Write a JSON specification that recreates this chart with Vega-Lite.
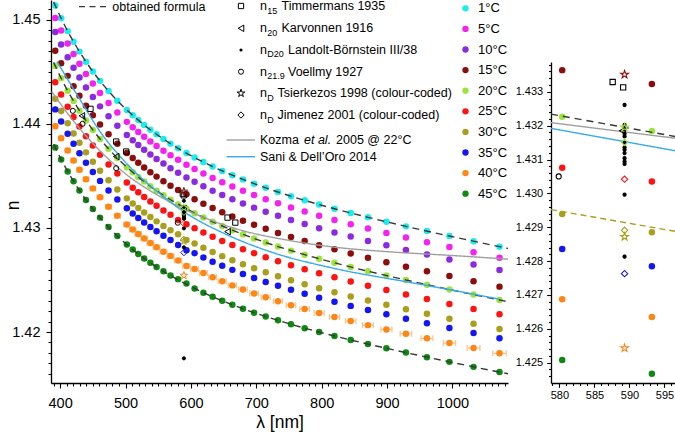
{
  "$schema": "https://vega.github.io/schema/vega-lite/v6.json",
  "width": 624,
  "height": 383,
  "autosize": "none",
  "padding": {"left": 51, "top": 0, "right": 0, "bottom": 53},
  "config": {
    "view": {"stroke": null},
    "font": "Liberation Sans",
    "axis": {"grid": false, "domainColor": "#000", "tickColor": "#000", "labelColor": "#000", "titleColor": "#000", "titleFontWeight": "normal", "domainWidth": 1.3, "tickWidth": 1.1, "labelOverlap": false, "labelFlush": false},
    "text": {"color": "#000"}
  },
  "datasets": {
    "pts": [
      {"l":392.5,"t":"1°C","n":1.45137},{"l":401.5,"t":"1°C","n":1.45015},{"l":411.5,"t":"1°C","n":1.44891},{"l":420.5,"t":"1°C","n":1.44789},{"l":429.5,"t":"1°C","n":1.44694},{"l":439.5,"t":"1°C","n":1.44597},{"l":450,"t":"1°C","n":1.44503},{"l":461,"t":"1°C","n":1.44413},{"l":474,"t":"1°C","n":1.44315},{"l":487.5,"t":"1°C","n":1.44223},{"l":502,"t":"1°C","n":1.44133},{"l":511,"t":"1°C","n":1.44082},{"l":519.5,"t":"1°C","n":1.44036},{"l":528.5,"t":"1°C","n":1.43989},{"l":538,"t":"1°C","n":1.43943},{"l":547.5,"t":"1°C","n":1.43900},{"l":558,"t":"1°C","n":1.43854},{"l":568.8,"t":"1°C","n":1.43810},{"l":580.4,"t":"1°C","n":1.43765},{"l":593.2,"t":"1°C","n":1.43719},{"l":605.6,"t":"1°C","n":1.43676},{"l":619.1,"t":"1°C","n":1.43633},{"l":633.2,"t":"1°C","n":1.43590},{"l":647.9,"t":"1°C","n":1.43548},{"l":663.4,"t":"1°C","n":1.43507},{"l":679.6,"t":"1°C","n":1.43466},{"l":696.6,"t":"1°C","n":1.43425},{"l":714.4,"t":"1°C","n":1.43385},{"l":733.2,"t":"1°C","n":1.43345},{"l":753.1,"t":"1°C","n":1.43305},{"l":774,"t":"1°C","n":1.43265},{"l":796.1,"t":"1°C","n":1.43225},{"l":819.6,"t":"1°C","n":1.43184},{"l":844.4,"t":"1°C","n":1.43143},{"l":870.8,"t":"1°C","n":1.43102},{"l":899,"t":"1°C","n":1.43059},{"l":928.9,"t":"1°C","n":1.43015},{"l":961,"t":"1°C","n":1.42970},{"l":995.4,"t":"1°C","n":1.42922},{"l":1032.3,"t":"1°C","n":1.42872},{"l":1072,"t":"1°C","n":1.42820},
      {"l":392.5,"t":"5°C","n":1.45016},{"l":401.5,"t":"5°C","n":1.44896},{"l":411.5,"t":"5°C","n":1.44772},{"l":420.5,"t":"5°C","n":1.44671},{"l":429.5,"t":"5°C","n":1.44577},{"l":439.5,"t":"5°C","n":1.44480},{"l":450,"t":"5°C","n":1.44387},{"l":461,"t":"5°C","n":1.44297},{"l":474,"t":"5°C","n":1.44200},{"l":487.5,"t":"5°C","n":1.44109},{"l":502,"t":"5°C","n":1.44019},{"l":511,"t":"5°C","n":1.43968},{"l":519.5,"t":"5°C","n":1.43922},{"l":528.5,"t":"5°C","n":1.43877},{"l":538,"t":"5°C","n":1.43831},{"l":547.5,"t":"5°C","n":1.43787},{"l":558,"t":"5°C","n":1.43742},{"l":568.8,"t":"5°C","n":1.43698},{"l":580.4,"t":"5°C","n":1.43654},{"l":593.2,"t":"5°C","n":1.43608},{"l":605.6,"t":"5°C","n":1.43566},{"l":619.1,"t":"5°C","n":1.43522},{"l":633.2,"t":"5°C","n":1.43480},{"l":647.9,"t":"5°C","n":1.43439},{"l":663.4,"t":"5°C","n":1.43397},{"l":679.6,"t":"5°C","n":1.43357},{"l":696.6,"t":"5°C","n":1.43316},{"l":714.4,"t":"5°C","n":1.43276},{"l":733.2,"t":"5°C","n":1.43237},{"l":753.1,"t":"5°C","n":1.43197},{"l":774,"t":"5°C","n":1.43157},{"l":796.1,"t":"5°C","n":1.43117},{"l":819.6,"t":"5°C","n":1.43077},{"l":844.4,"t":"5°C","n":1.43036},{"l":870.8,"t":"5°C","n":1.42994},{"l":899,"t":"5°C","n":1.42952},{"l":928.9,"t":"5°C","n":1.42908},{"l":961,"t":"5°C","n":1.42863},{"l":995.4,"t":"5°C","n":1.42816},{"l":1032.3,"t":"5°C","n":1.42766},{"l":1072,"t":"5°C","n":1.42714},
      {"l":392.5,"t":"10°C","n":1.44883},{"l":401.5,"t":"10°C","n":1.44763},{"l":411.5,"t":"10°C","n":1.44640},{"l":420.5,"t":"10°C","n":1.44539},{"l":429.5,"t":"10°C","n":1.44446},{"l":439.5,"t":"10°C","n":1.44350},{"l":450,"t":"10°C","n":1.44258},{"l":461,"t":"10°C","n":1.44168},{"l":474,"t":"10°C","n":1.44072},{"l":487.5,"t":"10°C","n":1.43981},{"l":502,"t":"10°C","n":1.43893},{"l":511,"t":"10°C","n":1.43842},{"l":519.5,"t":"10°C","n":1.43797},{"l":528.5,"t":"10°C","n":1.43751},{"l":538,"t":"10°C","n":1.43706},{"l":547.5,"t":"10°C","n":1.43663},{"l":558,"t":"10°C","n":1.43618},{"l":568.8,"t":"10°C","n":1.43574},{"l":580.4,"t":"10°C","n":1.43530},{"l":593.2,"t":"10°C","n":1.43484},{"l":605.6,"t":"10°C","n":1.43443},{"l":619.1,"t":"10°C","n":1.43400},{"l":633.2,"t":"10°C","n":1.43358},{"l":647.9,"t":"10°C","n":1.43316},{"l":663.4,"t":"10°C","n":1.43275},{"l":679.6,"t":"10°C","n":1.43235},{"l":696.6,"t":"10°C","n":1.43195},{"l":714.4,"t":"10°C","n":1.43155},{"l":733.2,"t":"10°C","n":1.43116},{"l":753.1,"t":"10°C","n":1.43076},{"l":774,"t":"10°C","n":1.43037},{"l":796.1,"t":"10°C","n":1.42997},{"l":819.6,"t":"10°C","n":1.42957},{"l":844.4,"t":"10°C","n":1.42917},{"l":870.8,"t":"10°C","n":1.42875},{"l":899,"t":"10°C","n":1.42833},{"l":928.9,"t":"10°C","n":1.42789},{"l":961,"t":"10°C","n":1.42744},{"l":995.4,"t":"10°C","n":1.42697},{"l":1032.3,"t":"10°C","n":1.42648},{"l":1072,"t":"10°C","n":1.42596},
      {"l":392.5,"t":"15°C","n":1.44702},{"l":401.5,"t":"15°C","n":1.44583},{"l":411.5,"t":"15°C","n":1.44461},{"l":420.5,"t":"15°C","n":1.44361},{"l":429.5,"t":"15°C","n":1.44269},{"l":439.5,"t":"15°C","n":1.44174},{"l":450,"t":"15°C","n":1.44082},{"l":461,"t":"15°C","n":1.43994},{"l":474,"t":"15°C","n":1.43899},{"l":487.5,"t":"15°C","n":1.43809},{"l":502,"t":"15°C","n":1.43721},{"l":511,"t":"15°C","n":1.43671},{"l":519.5,"t":"15°C","n":1.43626},{"l":528.5,"t":"15°C","n":1.43581},{"l":538,"t":"15°C","n":1.43536},{"l":547.5,"t":"15°C","n":1.43493},{"l":558,"t":"15°C","n":1.43449},{"l":568.8,"t":"15°C","n":1.43406},{"l":580.4,"t":"15°C","n":1.43364},{"l":593.2,"t":"15°C","n":1.43323},{"l":605.6,"t":"15°C","n":1.43275},{"l":619.1,"t":"15°C","n":1.43233},{"l":633.2,"t":"15°C","n":1.43191},{"l":647.9,"t":"15°C","n":1.43151},{"l":663.4,"t":"15°C","n":1.43110},{"l":679.6,"t":"15°C","n":1.43070},{"l":696.6,"t":"15°C","n":1.43030},{"l":714.4,"t":"15°C","n":1.42991},{"l":733.2,"t":"15°C","n":1.42952},{"l":753.1,"t":"15°C","n":1.42913},{"l":774,"t":"15°C","n":1.42874},{"l":796.1,"t":"15°C","n":1.42834},{"l":819.6,"t":"15°C","n":1.42795},{"l":844.4,"t":"15°C","n":1.42754},{"l":870.8,"t":"15°C","n":1.42714},{"l":899,"t":"15°C","n":1.42671},{"l":928.9,"t":"15°C","n":1.42628},{"l":961,"t":"15°C","n":1.42584},{"l":995.4,"t":"15°C","n":1.42537},{"l":1032.3,"t":"15°C","n":1.42488},{"l":1072,"t":"15°C","n":1.42436},
      {"l":392.5,"t":"20°C","n":1.44557},{"l":401.5,"t":"20°C","n":1.44438},{"l":411.5,"t":"20°C","n":1.44318},{"l":420.5,"t":"20°C","n":1.44219},{"l":429.5,"t":"20°C","n":1.44127},{"l":439.5,"t":"20°C","n":1.44033},{"l":450,"t":"20°C","n":1.43942},{"l":461,"t":"20°C","n":1.43854},{"l":474,"t":"20°C","n":1.43760},{"l":487.5,"t":"20°C","n":1.43671},{"l":502,"t":"20°C","n":1.43584},{"l":511,"t":"20°C","n":1.43534},{"l":519.5,"t":"20°C","n":1.43489},{"l":528.5,"t":"20°C","n":1.43445},{"l":538,"t":"20°C","n":1.43400},{"l":547.5,"t":"20°C","n":1.43358},{"l":558,"t":"20°C","n":1.43314},{"l":568.8,"t":"20°C","n":1.43271},{"l":580.4,"t":"20°C","n":1.43226},{"l":593.2,"t":"20°C","n":1.43184},{"l":605.6,"t":"20°C","n":1.43142},{"l":619.1,"t":"20°C","n":1.43100},{"l":633.2,"t":"20°C","n":1.43059},{"l":647.9,"t":"20°C","n":1.43018},{"l":663.4,"t":"20°C","n":1.42978},{"l":679.6,"t":"20°C","n":1.42938},{"l":696.6,"t":"20°C","n":1.42899},{"l":714.4,"t":"20°C","n":1.42860},{"l":733.2,"t":"20°C","n":1.42821},{"l":753.1,"t":"20°C","n":1.42782},{"l":774,"t":"20°C","n":1.42743},{"l":796.1,"t":"20°C","n":1.42704},{"l":819.6,"t":"20°C","n":1.42665},{"l":844.4,"t":"20°C","n":1.42625},{"l":870.8,"t":"20°C","n":1.42584},{"l":899,"t":"20°C","n":1.42542},{"l":928.9,"t":"20°C","n":1.42500},{"l":961,"t":"20°C","n":1.42455},{"l":995.4,"t":"20°C","n":1.42408},{"l":1032.3,"t":"20°C","n":1.42360},{"l":1072,"t":"20°C","n":1.42308},
      {"l":392.5,"t":"25°C","n":1.44400},{"l":401.5,"t":"25°C","n":1.44283},{"l":411.5,"t":"25°C","n":1.44164},{"l":420.5,"t":"25°C","n":1.44065},{"l":429.5,"t":"25°C","n":1.43974},{"l":439.5,"t":"25°C","n":1.43881},{"l":450,"t":"25°C","n":1.43791},{"l":461,"t":"25°C","n":1.43704},{"l":474,"t":"25°C","n":1.43610},{"l":487.5,"t":"25°C","n":1.43522},{"l":502,"t":"25°C","n":1.43436},{"l":511,"t":"25°C","n":1.43386},{"l":519.5,"t":"25°C","n":1.43342},{"l":528.5,"t":"25°C","n":1.43298},{"l":538,"t":"25°C","n":1.43254},{"l":547.5,"t":"25°C","n":1.43212},{"l":558,"t":"25°C","n":1.43168},{"l":568.8,"t":"25°C","n":1.43126},{"l":580.4,"t":"25°C","n":1.43076},{"l":593.2,"t":"25°C","n":1.43035},{"l":605.6,"t":"25°C","n":1.42998},{"l":619.1,"t":"25°C","n":1.42956},{"l":633.2,"t":"25°C","n":1.42915},{"l":647.9,"t":"25°C","n":1.42875},{"l":663.4,"t":"25°C","n":1.42835},{"l":679.6,"t":"25°C","n":1.42796},{"l":696.6,"t":"25°C","n":1.42757},{"l":714.4,"t":"25°C","n":1.42718},{"l":733.2,"t":"25°C","n":1.42680},{"l":753.1,"t":"25°C","n":1.42641},{"l":774,"t":"25°C","n":1.42603},{"l":796.1,"t":"25°C","n":1.42564},{"l":819.6,"t":"25°C","n":1.42525},{"l":844.4,"t":"25°C","n":1.42485},{"l":870.8,"t":"25°C","n":1.42445},{"l":899,"t":"25°C","n":1.42403},{"l":928.9,"t":"25°C","n":1.42361},{"l":961,"t":"25°C","n":1.42316},{"l":995.4,"t":"25°C","n":1.42270},{"l":1032.3,"t":"25°C","n":1.42221},{"l":1072,"t":"25°C","n":1.42170},
      {"l":392.5,"t":"30°C","n":1.44241},{"l":401.5,"t":"30°C","n":1.44124},{"l":411.5,"t":"30°C","n":1.44006},{"l":420.5,"t":"30°C","n":1.43908},{"l":429.5,"t":"30°C","n":1.43818},{"l":439.5,"t":"30°C","n":1.43726},{"l":450,"t":"30°C","n":1.43636},{"l":461,"t":"30°C","n":1.43550},{"l":474,"t":"30°C","n":1.43457},{"l":487.5,"t":"30°C","n":1.43370},{"l":502,"t":"30°C","n":1.43284},{"l":511,"t":"30°C","n":1.43235},{"l":519.5,"t":"30°C","n":1.43192},{"l":528.5,"t":"30°C","n":1.43148},{"l":538,"t":"30°C","n":1.43104},{"l":547.5,"t":"30°C","n":1.43063},{"l":558,"t":"30°C","n":1.43019},{"l":568.8,"t":"30°C","n":1.42977},{"l":580.4,"t":"30°C","n":1.42939},{"l":593.2,"t":"30°C","n":1.42885},{"l":605.6,"t":"30°C","n":1.42851},{"l":619.1,"t":"30°C","n":1.42809},{"l":633.2,"t":"30°C","n":1.42769},{"l":647.9,"t":"30°C","n":1.42729},{"l":663.4,"t":"30°C","n":1.42690},{"l":679.6,"t":"30°C","n":1.42651},{"l":696.6,"t":"30°C","n":1.42612},{"l":714.4,"t":"30°C","n":1.42574},{"l":733.2,"t":"30°C","n":1.42536},{"l":753.1,"t":"30°C","n":1.42497},{"l":774,"t":"30°C","n":1.42459},{"l":796.1,"t":"30°C","n":1.42421},{"l":819.6,"t":"30°C","n":1.42382},{"l":844.4,"t":"30°C","n":1.42342},{"l":870.8,"t":"30°C","n":1.42302},{"l":899,"t":"30°C","n":1.42261},{"l":928.9,"t":"30°C","n":1.42219},{"l":961,"t":"30°C","n":1.42175},{"l":995.4,"t":"30°C","n":1.42128},{"l":1032.3,"t":"30°C","n":1.42080},{"l":1072,"t":"30°C","n":1.42029},
      {"l":392.5,"t":"35°C","n":1.44139},{"l":401.5,"t":"35°C","n":1.44023},{"l":411.5,"t":"35°C","n":1.43905},{"l":420.5,"t":"35°C","n":1.43808},{"l":429.5,"t":"35°C","n":1.43718},{"l":439.5,"t":"35°C","n":1.43626},{"l":450,"t":"35°C","n":1.43537},{"l":461,"t":"35°C","n":1.43452},{"l":474,"t":"35°C","n":1.43360},{"l":487.5,"t":"35°C","n":1.43273},{"l":502,"t":"35°C","n":1.43188},{"l":511,"t":"35°C","n":1.43139},{"l":519.5,"t":"35°C","n":1.43096},{"l":528.5,"t":"35°C","n":1.43052},{"l":538,"t":"35°C","n":1.43008},{"l":547.5,"t":"35°C","n":1.42967},{"l":558,"t":"35°C","n":1.42924},{"l":568.8,"t":"35°C","n":1.42883},{"l":580.4,"t":"35°C","n":1.42836},{"l":593.2,"t":"35°C","n":1.42785},{"l":605.6,"t":"35°C","n":1.42757},{"l":619.1,"t":"35°C","n":1.42716},{"l":633.2,"t":"35°C","n":1.42675},{"l":647.9,"t":"35°C","n":1.42636},{"l":663.4,"t":"35°C","n":1.42597},{"l":679.6,"t":"35°C","n":1.42558},{"l":696.6,"t":"35°C","n":1.42519},{"l":714.4,"t":"35°C","n":1.42481},{"l":733.2,"t":"35°C","n":1.42444},{"l":753.1,"t":"35°C","n":1.42405},{"l":774,"t":"35°C","n":1.42367},{"l":796.1,"t":"35°C","n":1.42329},{"l":819.6,"t":"35°C","n":1.42290},{"l":844.4,"t":"35°C","n":1.42251},{"l":870.8,"t":"35°C","n":1.42211},{"l":899,"t":"35°C","n":1.42170},{"l":928.9,"t":"35°C","n":1.42128},{"l":961,"t":"35°C","n":1.42084},{"l":995.4,"t":"35°C","n":1.42038},{"l":1032.3,"t":"35°C","n":1.41990},{"l":1072,"t":"35°C","n":1.41939},
      {"l":392.5,"t":"40°C","n":1.43976,"lo":388.8,"hi":396.2},{"l":401.5,"t":"40°C","n":1.43861,"lo":397.7,"hi":405.3},{"l":411.5,"t":"40°C","n":1.43744,"lo":407.6,"hi":415.4},{"l":420.5,"t":"40°C","n":1.43648,"lo":416.5,"hi":424.5},{"l":429.5,"t":"40°C","n":1.43559,"lo":425.4,"hi":433.6},{"l":439.5,"t":"40°C","n":1.43468,"lo":435.3,"hi":443.7},{"l":450,"t":"40°C","n":1.43380,"lo":445.7,"hi":454.3},{"l":461,"t":"40°C","n":1.43295,"lo":456.6,"hi":465.4},{"l":474,"t":"40°C","n":1.43203,"lo":469.5,"hi":478.5},{"l":487.5,"t":"40°C","n":1.43117,"lo":482.9,"hi":492.1},{"l":502,"t":"40°C","n":1.43033,"lo":497.2,"hi":506.8},{"l":511,"t":"40°C","n":1.42985,"lo":506.1,"hi":515.9},{"l":519.5,"t":"40°C","n":1.42942,"lo":514.6,"hi":524.4},{"l":528.5,"t":"40°C","n":1.42899,"lo":523.5,"hi":533.5},{"l":538,"t":"40°C","n":1.42856,"lo":532.9,"hi":543.1},{"l":547.5,"t":"40°C","n":1.42815,"lo":542.3,"hi":552.7},{"l":558,"t":"40°C","n":1.42772,"lo":552.7,"hi":563.3},{"l":568.8,"t":"40°C","n":1.42731,"lo":563.4,"hi":574.2},{"l":580.4,"t":"40°C","n":1.42687,"lo":574.9,"hi":585.9},{"l":593.2,"t":"40°C","n":1.42635,"lo":587.6,"hi":598.8},{"l":605.6,"t":"40°C","n":1.42606,"lo":599.8,"hi":611.4},{"l":619.1,"t":"40°C","n":1.42566,"lo":613.2,"hi":625.0},{"l":633.2,"t":"40°C","n":1.42526,"lo":627.2,"hi":639.2},{"l":647.9,"t":"40°C","n":1.42487,"lo":641.7,"hi":654.1},{"l":663.4,"t":"40°C","n":1.42448,"lo":657.1,"hi":669.7},{"l":679.6,"t":"40°C","n":1.42409,"lo":673.1,"hi":686.1},{"l":696.6,"t":"40°C","n":1.42371,"lo":690.0,"hi":703.2},{"l":714.4,"t":"40°C","n":1.42334,"lo":707.6,"hi":721.2},{"l":733.2,"t":"40°C","n":1.42296,"lo":726.2,"hi":740.2},{"l":753.1,"t":"40°C","n":1.42258,"lo":745.9,"hi":760.3},{"l":774,"t":"40°C","n":1.42221,"lo":766.6,"hi":781.4},{"l":796.1,"t":"40°C","n":1.42183,"lo":788.5,"hi":803.7},{"l":819.6,"t":"40°C","n":1.42144,"lo":811.8,"hi":827.4},{"l":844.4,"t":"40°C","n":1.42105,"lo":836.4,"hi":852.4},{"l":870.8,"t":"40°C","n":1.42066,"lo":862.5,"hi":879.1},{"l":899,"t":"40°C","n":1.42025,"lo":890.5,"hi":907.5},{"l":928.9,"t":"40°C","n":1.41983,"lo":920.1,"hi":937.7},{"l":961,"t":"40°C","n":1.41939,"lo":951.9,"hi":970.1},{"l":995.4,"t":"40°C","n":1.41894,"lo":985.9,"hi":1004.9},{"l":1032.3,"t":"40°C","n":1.41846,"lo":1022.5,"hi":1042.1},{"l":1072,"t":"40°C","n":1.41795,"lo":1061.8,"hi":1082.2},
      {"l":392.5,"t":"45°C","n":1.43772},{"l":401.5,"t":"45°C","n":1.43658},{"l":411.5,"t":"45°C","n":1.43543},{"l":420.5,"t":"45°C","n":1.43448},{"l":429.5,"t":"45°C","n":1.43360},{"l":439.5,"t":"45°C","n":1.43269},{"l":450,"t":"45°C","n":1.43182},{"l":461,"t":"45°C","n":1.43099},{"l":474,"t":"45°C","n":1.43008},{"l":487.5,"t":"45°C","n":1.42923},{"l":502,"t":"45°C","n":1.42840},{"l":511,"t":"45°C","n":1.42792},{"l":519.5,"t":"45°C","n":1.42750},{"l":528.5,"t":"45°C","n":1.42707},{"l":538,"t":"45°C","n":1.42665},{"l":547.5,"t":"45°C","n":1.42625},{"l":558,"t":"45°C","n":1.42583},{"l":568.8,"t":"45°C","n":1.42542},{"l":580.4,"t":"45°C","n":1.42508},{"l":593.2,"t":"45°C","n":1.42467},{"l":605.6,"t":"45°C","n":1.42419},{"l":619.1,"t":"45°C","n":1.42378},{"l":633.2,"t":"45°C","n":1.42339},{"l":647.9,"t":"45°C","n":1.42300},{"l":663.4,"t":"45°C","n":1.42262},{"l":679.6,"t":"45°C","n":1.42224},{"l":696.6,"t":"45°C","n":1.42186},{"l":714.4,"t":"45°C","n":1.42149},{"l":733.2,"t":"45°C","n":1.42112},{"l":753.1,"t":"45°C","n":1.42075},{"l":774,"t":"45°C","n":1.42037},{"l":796.1,"t":"45°C","n":1.42000},{"l":819.6,"t":"45°C","n":1.41962},{"l":844.4,"t":"45°C","n":1.41923},{"l":870.8,"t":"45°C","n":1.41884},{"l":899,"t":"45°C","n":1.41843},{"l":928.9,"t":"45°C","n":1.41802},{"l":961,"t":"45°C","n":1.41758},{"l":995.4,"t":"45°C","n":1.41713},{"l":1032.3,"t":"45°C","n":1.41665},{"l":1072,"t":"45°C","n":1.41615}
    ],
    "refs": [
      {"s":"Timmermans","l":446.4,"n":1.44144},{"s":"Timmermans","l":485.7,"n":1.4383},{"s":"Timmermans","l":501.0,"n":1.43734},{"s":"Timmermans","l":587.6,"n":1.43329},{"s":"Timmermans","l":589.1,"n":1.43313},{"s":"Timmermans","l":656.0,"n":1.43099},{"s":"Timmermans","l":667.9,"n":1.43051},
      {"s":"Karvonnen","l":433.2,"n":1.44077},{"s":"Karvonnen","l":485.7,"n":1.43686},{"s":"Karvonnen","l":589.0,"n":1.43185},{"s":"Karvonnen","l":656.0,"n":1.42964},
      {"s":"Landolt","l":589.3,"n":1.43261},{"s":"Landolt","l":589.3,"n":1.43202},{"s":"Landolt","l":589.3,"n":1.43189},{"s":"Landolt","l":589.3,"n":1.43176},{"s":"Landolt","l":589.3,"n":1.43168},{"s":"Landolt","l":589.3,"n":1.4315},{"s":"Landolt","l":589.3,"n":1.43136},{"s":"Landolt","l":589.3,"n":1.43129},{"s":"Landolt","l":589.3,"n":1.43119},{"s":"Landolt","l":589.3,"n":1.43104},{"s":"Landolt","l":589.3,"n":1.43094},{"s":"Landolt","l":589.3,"n":1.43087},{"s":"Landolt","l":589.3,"n":1.42996},{"s":"Landolt","l":589.3,"n":1.42813},{"s":"Landolt","l":589.3,"n":1.41747},
      {"s":"Voellmy","l":419.4,"n":1.44125},{"s":"Voellmy","l":434.2,"n":1.44},{"s":"Voellmy","l":485.7,"n":1.43574},{"s":"Voellmy","l":579.9,"n":1.4305},
      {"s":"Tsierkezos","l":589.3,"n":1.43351,"t":"15°C"},{"s":"Tsierkezos","l":589.3,"n":1.43195,"t":"20°C"},{"s":"Tsierkezos","l":589.3,"n":1.42872,"t":"30°C"},{"s":"Tsierkezos","l":589.3,"n":1.42543,"t":"40°C"},
      {"s":"Jimenez","l":589.3,"n":1.43151,"t":"20°C"},{"s":"Jimenez","l":589.3,"n":1.43042,"t":"25°C"},{"s":"Jimenez","l":589.3,"n":1.42891,"t":"30°C"},{"s":"Jimenez","l":589.3,"n":1.42763,"t":"35°C"}
    ],
    "curves": [
      {"g":"f1","l":390,"n":1.45172},{"g":"f1","l":401.5,"n":1.45015},{"g":"f1","l":411.5,"n":1.44891},{"g":"f1","l":420.5,"n":1.44789},{"g":"f1","l":429.5,"n":1.44694},{"g":"f1","l":439.5,"n":1.44597},{"g":"f1","l":450,"n":1.44503},{"g":"f1","l":461,"n":1.44413},{"g":"f1","l":474,"n":1.44315},{"g":"f1","l":487.5,"n":1.44223},{"g":"f1","l":502,"n":1.44133},{"g":"f1","l":519.5,"n":1.44036},{"g":"f1","l":538,"n":1.43943},{"g":"f1","l":558,"n":1.43854},{"g":"f1","l":580.4,"n":1.43765},{"g":"f1","l":605.6,"n":1.43676},{"g":"f1","l":633.2,"n":1.43590},{"g":"f1","l":663.4,"n":1.43507},{"g":"f1","l":696.6,"n":1.43425},{"g":"f1","l":733.2,"n":1.43345},{"g":"f1","l":774,"n":1.43265},{"g":"f1","l":819.6,"n":1.43184},{"g":"f1","l":870.8,"n":1.43102},{"g":"f1","l":928.9,"n":1.43015},{"g":"f1","l":995.4,"n":1.42922},{"g":"f1","l":1072,"n":1.42820},{"g":"f1","l":1085,"n":1.42803},
      {"g":"f20","l":390,"n":1.44591},{"g":"f20","l":401.5,"n":1.44438},{"g":"f20","l":411.5,"n":1.44318},{"g":"f20","l":420.5,"n":1.44219},{"g":"f20","l":429.5,"n":1.44127},{"g":"f20","l":439.5,"n":1.44033},{"g":"f20","l":450,"n":1.43942},{"g":"f20","l":461,"n":1.43854},{"g":"f20","l":474,"n":1.43760},{"g":"f20","l":487.5,"n":1.43671},{"g":"f20","l":502,"n":1.43584},{"g":"f20","l":519.5,"n":1.43489},{"g":"f20","l":538,"n":1.43400},{"g":"f20","l":558,"n":1.43314},{"g":"f20","l":580.4,"n":1.43228},{"g":"f20","l":605.6,"n":1.43142},{"g":"f20","l":633.2,"n":1.43059},{"g":"f20","l":663.4,"n":1.42978},{"g":"f20","l":696.6,"n":1.42899},{"g":"f20","l":733.2,"n":1.42821},{"g":"f20","l":774,"n":1.42743},{"g":"f20","l":819.6,"n":1.42665},{"g":"f20","l":870.8,"n":1.42584},{"g":"f20","l":928.9,"n":1.42500},{"g":"f20","l":995.4,"n":1.42408},{"g":"f20","l":1072,"n":1.42308},{"g":"f20","l":1085,"n":1.42291},
      {"g":"f45","l":390,"n":1.43805},{"g":"f45","l":401.5,"n":1.43658},{"g":"f45","l":411.5,"n":1.43543},{"g":"f45","l":420.5,"n":1.43448},{"g":"f45","l":429.5,"n":1.43360},{"g":"f45","l":439.5,"n":1.43269},{"g":"f45","l":450,"n":1.43182},{"g":"f45","l":461,"n":1.43099},{"g":"f45","l":474,"n":1.43008},{"g":"f45","l":487.5,"n":1.42923},{"g":"f45","l":502,"n":1.42840},{"g":"f45","l":519.5,"n":1.42750},{"g":"f45","l":538,"n":1.42665},{"g":"f45","l":558,"n":1.42583},{"g":"f45","l":580.4,"n":1.42501},{"g":"f45","l":605.6,"n":1.42419},{"g":"f45","l":633.2,"n":1.42339},{"g":"f45","l":663.4,"n":1.42262},{"g":"f45","l":696.6,"n":1.42186},{"g":"f45","l":733.2,"n":1.42112},{"g":"f45","l":774,"n":1.42037},{"g":"f45","l":819.6,"n":1.41962},{"g":"f45","l":870.8,"n":1.41884},{"g":"f45","l":928.9,"n":1.41802},{"g":"f45","l":995.4,"n":1.41713},{"g":"f45","l":1072,"n":1.41615},{"g":"f45","l":1085,"n":1.41599},
      {"g":"koz","l":387,"n":1.44311},{"g":"koz","l":420,"n":1.44030},{"g":"koz","l":461,"n":1.43740},{"g":"koz","l":500,"n":1.43520},{"g":"koz","l":562,"n":1.43270},{"g":"koz","l":589.3,"n":1.43182},{"g":"koz","l":620,"n":1.43100},{"g":"koz","l":670,"n":1.42990},{"g":"koz","l":750,"n":1.42880},{"g":"koz","l":820,"n":1.42815},{"g":"koz","l":900,"n":1.42772},{"g":"koz","l":1000,"n":1.42735},{"g":"koz","l":1085,"n":1.42700},
      {"g":"sani","l":395,"n":1.44599},{"g":"sani","l":430.6,"n":1.44231},{"g":"sani","l":461,"n":1.43926},{"g":"sani","l":500,"n":1.43630},{"g":"sani","l":558,"n":1.43301},{"g":"sani","l":589.3,"n":1.43155},{"g":"sani","l":650,"n":1.42949},{"g":"sani","l":721,"n":1.42772},{"g":"sani","l":820,"n":1.42610},{"g":"sani","l":930,"n":1.42482},{"g":"sani","l":997.5,"n":1.42405},{"g":"sani","l":1071,"n":1.42317}
    ],
    "ins": [
      {"g":"f20","l":578.8,"n":1.43234},{"g":"f20","l":596.5,"n":1.43168},
      {"g":"f30","l":578.8,"n":1.42952},{"g":"f30","l":596.5,"n":1.42888},
      {"g":"koz","l":578.8,"n":1.43209},{"g":"koz","l":596.5,"n":1.43163},
      {"g":"sani","l":578.8,"n":1.43192},{"g":"sani","l":596.5,"n":1.43126}
    ]
  },
  "layer": [
    {
      "data": {"values": [{}]},
      "resolve": {"axis": {"x": "independent", "y": "independent"}},
      "layer": [
        {
          "data": {"name": "pts"},
          "transform": [{"filter": "datum.t === '40°C'"}],
          "mark": {"type": "rule", "color": "#fdc28d", "strokeWidth": 1.3},
          "encoding": {
            "x": {"field": "lo", "type": "quantitative",
              "scale": {"domain": [386, 1085], "range": [0, 457], "nice": false, "zero": false},
              "axis": {"orient": "bottom", "title": "λ [nm]", "format": "d", "labelOverlap": false,
                "values": [400,500,600,700,800,900,1000],
                "tickSize": 5, "labelFontSize": 14.5, "labelPadding": 8, "titleFontSize": 17.5, "titlePadding": 4}},
            "x2": {"field": "hi"},
            "y": {"field": "n", "type": "quantitative",
              "scale": {"domain": [1.4151, 1.4519], "nice": false, "zero": false},
              "axis": {"orient": "left", "title": "n", "format": ".2f", "labelOverlap": false,
                "values": [1.42,1.43,1.44,1.45],
                "tickSize": 5, "labelFontSize": 14.5, "labelPadding": 6, "titleFontSize": 17.5, "titleX": -29, "titleY": 205}}
          }
        },
        {
          "data": {"name": "pts"},
          "transform": [{"filter": "datum.t === '40°C'"}],
          "mark": {"type": "tick", "orient": "vertical", "size": 6, "thickness": 1.2, "color": "#fdc28d", "opacity": 1},
          "encoding": {
            "x": {"field": "lo", "type": "quantitative",
              "axis": {"orient": "bottom", "title": null, "labels": false, "domain": false, "tickSize": 3,
                "values": [390,410,420,430,440,450,460,470,480,490,510,520,530,540,550,560,570,580,590,610,620,630,640,650,660,670,680,690,710,720,730,740,750,760,770,780,790,810,820,830,840,850,860,870,880,890,910,920,930,940,950,960,970,980,990,1010,1020,1030,1040,1050,1060,1070,1080]}},
            "y": {"field": "n", "type": "quantitative",
              "axis": {"orient": "left", "title": null, "labels": false, "domain": false, "tickSize": 3,
                "values": [1.416,1.417,1.418,1.419,1.421,1.422,1.423,1.424,1.425,1.426,1.427,1.428,1.429,1.431,1.432,1.433,1.434,1.435,1.436,1.437,1.438,1.439,1.441,1.442,1.443,1.444,1.445,1.446,1.447,1.448,1.449,1.451]}}
          }
        },
        {
          "data": {"name": "pts"},
          "transform": [{"filter": "datum.t === '40°C'"}],
          "mark": {"type": "tick", "orient": "vertical", "size": 6, "thickness": 1.2, "color": "#fdc28d", "opacity": 1},
          "encoding": {
            "x": {"field": "hi", "type": "quantitative", "axis": null},
            "y": {"field": "n", "type": "quantitative", "axis": null}
          }
        },
        {
          "data": {"name": "pts"},
          "mark": {"type": "circle", "size": 42, "opacity": 1},
          "encoding": {
            "x": {"field": "l", "type": "quantitative", "axis": null},
            "y": {"field": "n", "type": "quantitative", "axis": null},
            "color": {"field": "t", "type": "nominal",
              "scale": {"domain": ["1°C","5°C","10°C","15°C","20°C","25°C","30°C","35°C","40°C","45°C"],
                "range": ["#19eeee","#f522ee","#8a2be2","#8b0d0d","#9ce43c","#ff1212","#a89f1c","#1414f5","#ff8514","#0e8a10"]},
              "legend": {"orient": "none", "legendX": 408, "legendY": 1.8, "title": null, "labelFontSize": 13, "labelFont": "Liberation Sans", "labelColor": "#000", "symbolType": "circle", "symbolSize": 40, "symbolStrokeWidth": 0, "labelOffset": 6, "rowPadding": 6.6, "padding": 0}}
          }
        },
        {
          "data": {"name": "curves"},
          "mark": {"type": "line", "strokeWidth": 1.4, "interpolate": "monotone"},
          "encoding": {
            "x": {"field": "l", "type": "quantitative", "axis": null},
            "y": {"field": "n", "type": "quantitative", "axis": null},
            "stroke": {"field": "g", "type": "nominal", "legend": null,
              "scale": {"domain": ["f1","f20","f45","f30","koz","sani"], "range": ["#383838","#383838","#383838","#a89f1c","#9f9f9f","#36aaf0"]}},
            "strokeDash": {"field": "g", "type": "nominal", "legend": null,
              "scale": {"domain": ["f1","f20","f45","f30","koz","sani"], "range": [[7,5],[7,5],[7,5],[6,4],[1,0],[1,0]]}}
          }
        },
        {
          "data": {"name": "refs"},
          "mark": {"type": "point", "filled": false, "opacity": 1, "strokeWidth": 1},
          "encoding": {
            "x": {"field": "l", "type": "quantitative", "axis": null},
            "y": {"field": "n", "type": "quantitative", "axis": null},
            "shape": {"field": "s", "type": "nominal", "legend": null,
              "scale": {"domain": ["Timmermans","Karvonnen","Landolt","Voellmy","Tsierkezos","Jimenez"],
                "range": ["square","triangle-left","circle","circle","M0,-1L0.2245,-0.309L0.9511,-0.309L0.3633,0.118L0.5878,0.809L0,0.382L-0.5878,0.809L-0.3633,0.118L-0.9511,-0.309L-0.2245,-0.309Z","diamond"]}},
            "size": {"condition": [
                {"test": "datum.s === 'Landolt'", "value": 10},
                {"test": "datum.s === 'Karvonnen'", "value": 42},
                {"test": "datum.s === 'Tsierkezos'", "value": 65},
                {"test": "datum.s === 'Jimenez'", "value": 40},
                {"test": "datum.s === 'Voellmy'", "value": 26}],
              "value": 28},
            "color": {"condition": {"test": "!isValid(datum.t)", "value": "#000"}, "field": "t", "type": "nominal", "legend": null},
            "fill": {"condition": {"test": "datum.s === 'Landolt'", "value": "#000"}, "value": "transparent"}
          }
        },
        {"mark": {"type": "rule", "color": "#383838", "strokeWidth": 1.4, "strokeDash": [6, 4.5]},
         "encoding": {"x": {"datum": 428.8, "axis": null}, "x2": {"datum": 473.6}, "y": {"datum": 1.45126, "axis": null}}},
        {"mark": {"type": "text", "text": "obtained formula", "align": "left", "baseline": "middle", "fontSize": 12.5},
         "encoding": {"x": {"datum": 479.8, "axis": null}, "y": {"datum": 1.45126, "axis": null}}},

        {"mark": {"type": "point", "shape": "square", "size": 28, "filled": false, "color": "#000", "strokeWidth": 1, "opacity": 1},
         "encoding": {"x": {"datum": 676.6, "axis": null}, "y": {"datum": 1.451323, "axis": null}}},
        {"mark": {"type": "text", "text": "n", "align": "left", "baseline": "middle", "fontSize": 12.5},
         "encoding": {"x": {"datum": 705.7, "axis": null}, "y": {"datum": 1.451323, "axis": null}}},
        {"mark": {"type": "text", "text": "15", "align": "left", "baseline": "middle", "fontSize": 9, "dy": 4.5},
         "encoding": {"x": {"datum": 716.8, "axis": null}, "y": {"datum": 1.451323, "axis": null}}},
        {"mark": {"type": "text", "text": "Timmermans 1935", "align": "left", "baseline": "middle", "fontSize": 12.5},
         "encoding": {"x": {"datum": 738.5, "axis": null}, "y": {"datum": 1.451323, "axis": null}}},

        {"mark": {"type": "point", "shape": "triangle-left", "size": 42, "filled": false, "color": "#000", "strokeWidth": 1, "opacity": 1},
         "encoding": {"x": {"datum": 676.6, "axis": null}, "y": {"datum": 1.449181, "axis": null}}},
        {"mark": {"type": "text", "text": "n", "align": "left", "baseline": "middle", "fontSize": 12.5},
         "encoding": {"x": {"datum": 705.7, "axis": null}, "y": {"datum": 1.449181, "axis": null}}},
        {"mark": {"type": "text", "text": "20", "align": "left", "baseline": "middle", "fontSize": 9, "dy": 4.5},
         "encoding": {"x": {"datum": 716.8, "axis": null}, "y": {"datum": 1.449181, "axis": null}}},
        {"mark": {"type": "text", "text": "Karvonnen 1916", "align": "left", "baseline": "middle", "fontSize": 12.5},
         "encoding": {"x": {"datum": 738.5, "axis": null}, "y": {"datum": 1.449181, "axis": null}}},

        {"mark": {"type": "point", "shape": "circle", "size": 10, "filled": true, "color": "#000", "opacity": 1},
         "encoding": {"x": {"datum": 676.6, "axis": null}, "y": {"datum": 1.447096, "axis": null}}},
        {"mark": {"type": "text", "text": "n", "align": "left", "baseline": "middle", "fontSize": 12.5},
         "encoding": {"x": {"datum": 705.7, "axis": null}, "y": {"datum": 1.447096, "axis": null}}},
        {"mark": {"type": "text", "text": "D20", "align": "left", "baseline": "middle", "fontSize": 9, "dy": 4.5},
         "encoding": {"x": {"datum": 716.8, "axis": null}, "y": {"datum": 1.447096, "axis": null}}},
        {"mark": {"type": "text", "text": "Landolt-Börnstein III/38", "align": "left", "baseline": "middle", "fontSize": 12.5},
         "encoding": {"x": {"datum": 748.5, "axis": null}, "y": {"datum": 1.447096, "axis": null}}},

        {"mark": {"type": "point", "shape": "circle", "size": 26, "filled": false, "color": "#000", "strokeWidth": 1, "opacity": 1},
         "encoding": {"x": {"datum": 676.6, "axis": null}, "y": {"datum": 1.445011, "axis": null}}},
        {"mark": {"type": "text", "text": "n", "align": "left", "baseline": "middle", "fontSize": 12.5},
         "encoding": {"x": {"datum": 705.7, "axis": null}, "y": {"datum": 1.445011, "axis": null}}},
        {"mark": {"type": "text", "text": "21.9", "align": "left", "baseline": "middle", "fontSize": 9, "dy": 4.5},
         "encoding": {"x": {"datum": 716.8, "axis": null}, "y": {"datum": 1.445011, "axis": null}}},
        {"mark": {"type": "text", "text": "Voellmy 1927", "align": "left", "baseline": "middle", "fontSize": 12.5},
         "encoding": {"x": {"datum": 748.5, "axis": null}, "y": {"datum": 1.445011, "axis": null}}},

        {"mark": {"type": "point", "shape": "M0,-1L0.2245,-0.309L0.9511,-0.309L0.3633,0.118L0.5878,0.809L0,0.382L-0.5878,0.809L-0.3633,0.118L-0.9511,-0.309L-0.2245,-0.309Z", "size": 65, "filled": false, "color": "#000", "strokeWidth": 1, "opacity": 1},
         "encoding": {"x": {"datum": 676.6, "axis": null}, "y": {"datum": 1.442936, "axis": null}}},
        {"mark": {"type": "text", "text": "n", "align": "left", "baseline": "middle", "fontSize": 12.5},
         "encoding": {"x": {"datum": 705.7, "axis": null}, "y": {"datum": 1.442936, "axis": null}}},
        {"mark": {"type": "text", "text": "D", "align": "left", "baseline": "middle", "fontSize": 9, "dy": 4.5},
         "encoding": {"x": {"datum": 716.8, "axis": null}, "y": {"datum": 1.442936, "axis": null}}},
        {"mark": {"type": "text", "text": "Tsierkezos 1998 (colour-coded)", "align": "left", "baseline": "middle", "fontSize": 12.5},
         "encoding": {"x": {"datum": 732.4, "axis": null}, "y": {"datum": 1.442936, "axis": null}}},

        {"mark": {"type": "point", "shape": "diamond", "size": 40, "filled": false, "color": "#000", "strokeWidth": 1, "opacity": 1},
         "encoding": {"x": {"datum": 676.6, "axis": null}, "y": {"datum": 1.44085, "axis": null}}},
        {"mark": {"type": "text", "text": "n", "align": "left", "baseline": "middle", "fontSize": 12.5},
         "encoding": {"x": {"datum": 705.7, "axis": null}, "y": {"datum": 1.44085, "axis": null}}},
        {"mark": {"type": "text", "text": "D", "align": "left", "baseline": "middle", "fontSize": 9, "dy": 4.5},
         "encoding": {"x": {"datum": 716.8, "axis": null}, "y": {"datum": 1.44085, "axis": null}}},
        {"mark": {"type": "text", "text": "Jimenez 2001 (colour-coded)", "align": "left", "baseline": "middle", "fontSize": 12.5},
         "encoding": {"x": {"datum": 732.4, "axis": null}, "y": {"datum": 1.44085, "axis": null}}},

        {"mark": {"type": "rule", "color": "#9f9f9f", "strokeWidth": 1.4},
         "encoding": {"x": {"datum": 654.7, "axis": null}, "x2": {"datum": 698.0}, "y": {"datum": 1.438448, "axis": null}}},
        {"mark": {"type": "text", "text": "Kozma", "align": "left", "baseline": "middle", "fontSize": 12.5},
         "encoding": {"x": {"datum": 705.7, "axis": null}, "y": {"datum": 1.438448, "axis": null}}},
        {"mark": {"type": "text", "text": "et al.", "align": "left", "baseline": "middle", "fontSize": 12.5, "fontStyle": "italic"},
         "encoding": {"x": {"datum": 773.0, "axis": null}, "y": {"datum": 1.438448, "axis": null}}},
        {"mark": {"type": "text", "text": "2005 @ 22°C", "align": "left", "baseline": "middle", "fontSize": 12.5},
         "encoding": {"x": {"datum": 822.0, "axis": null}, "y": {"datum": 1.438448, "axis": null}}},

        {"mark": {"type": "rule", "color": "#36aaf0", "strokeWidth": 1.4},
         "encoding": {"x": {"datum": 654.7, "axis": null}, "x2": {"datum": 698.0}, "y": {"datum": 1.436844, "axis": null}}},
        {"mark": {"type": "text", "text": "Sani & Dell’Oro 2014", "align": "left", "baseline": "middle", "fontSize": 12.5},
         "encoding": {"x": {"datum": 705.7, "axis": null}, "y": {"datum": 1.436844, "axis": null}}}
      ]
    },
    {
      "resolve": {"axis": {"x": "independent", "y": "independent"}},
      "layer": [
        {
          "data": {"name": "pts"},
          "transform": [{"filter": "datum.l >= 578.8 && datum.l <= 596.5 && datum.n >= 1.4244 && datum.n <= 1.43388"}],
          "mark": {"type": "circle", "size": 42, "opacity": 1},
          "encoding": {
            "x": {"field": "l", "type": "quantitative",
              "scale": {"domain": [578.8, 596.5], "range": [500, 624], "nice": false, "zero": false},
              "axis": {"orient": "bottom", "title": null, "format": "d", "labelOverlap": false,
                "values": [580,585,590,595], "tickSize": 4.3, "labelFontSize": 11, "labelPadding": 2}},
            "y": {"field": "n", "type": "quantitative",
              "scale": {"domain": [1.4244, 1.43388], "range": [383, 62], "nice": false, "zero": false},
              "axis": {"orient": "left", "offset": -500, "title": null, "format": ".3f", "labelOverlap": false,
                "values": [1.425,1.426,1.427,1.428,1.429,1.43,1.431,1.432,1.433],
                "tickSize": 4.3, "labelFontSize": 11, "labelPadding": 4}},
            "color": {"field": "t", "type": "nominal", "legend": null}
          }
        },
        {
          "data": {"name": "ins"},
          "mark": {"type": "line", "strokeWidth": 1.4},
          "encoding": {
            "x": {"field": "l", "type": "quantitative",
              "axis": {"orient": "bottom", "title": null, "labels": false, "domain": false, "tickSize": 2.5,
                "values": [579,581,582,583,584,586,587,588,589,591,592,593,594,596]}},
            "y": {"field": "n", "type": "quantitative",
              "axis": {"orient": "left", "offset": -500, "title": null, "labels": false, "domain": false, "tickSize": 2.5,
                "values": [1.4246,1.4248,1.4252,1.4254,1.4256,1.4258,1.4262,1.4264,1.4266,1.4268,1.4272,1.4274,1.4276,1.4278,1.4282,1.4284,1.4286,1.4288,1.4292,1.4294,1.4296,1.4298,1.4302,1.4304,1.4306,1.4308,1.4312,1.4314,1.4316,1.4318,1.4322,1.4324,1.4326,1.4328,1.4332,1.4334,1.4336,1.4338]}},
            "stroke": {"field": "g", "type": "nominal", "legend": null},
            "strokeDash": {"field": "g", "type": "nominal", "legend": null}
          }
        },
        {
          "data": {"name": "refs"},
          "transform": [{"filter": "datum.l >= 578.8 && datum.l <= 596.5 && datum.n >= 1.4244 && datum.n <= 1.43388"}],
          "mark": {"type": "point", "filled": false, "opacity": 1, "strokeWidth": 1.1},
          "encoding": {
            "x": {"field": "l", "type": "quantitative", "axis": null},
            "y": {"field": "n", "type": "quantitative", "axis": null},
            "shape": {"field": "s", "type": "nominal", "legend": null},
            "size": {"condition": [
                {"test": "datum.s === 'Landolt'", "value": 10},
                {"test": "datum.s === 'Karvonnen'", "value": 42},
                {"test": "datum.s === 'Tsierkezos'", "value": 65},
                {"test": "datum.s === 'Jimenez'", "value": 40},
                {"test": "datum.s === 'Voellmy'", "value": 26}],
              "value": 28},
            "color": {"condition": {"test": "!isValid(datum.t)", "value": "#000"}, "field": "t", "type": "nominal", "legend": null},
            "fill": {"condition": {"test": "datum.s === 'Landolt'", "value": "#000"}, "value": "transparent"}
          }
        }
      ]
    }
  ],
  "resolve": {"scale": {"x": "independent", "y": "independent"}}
}
